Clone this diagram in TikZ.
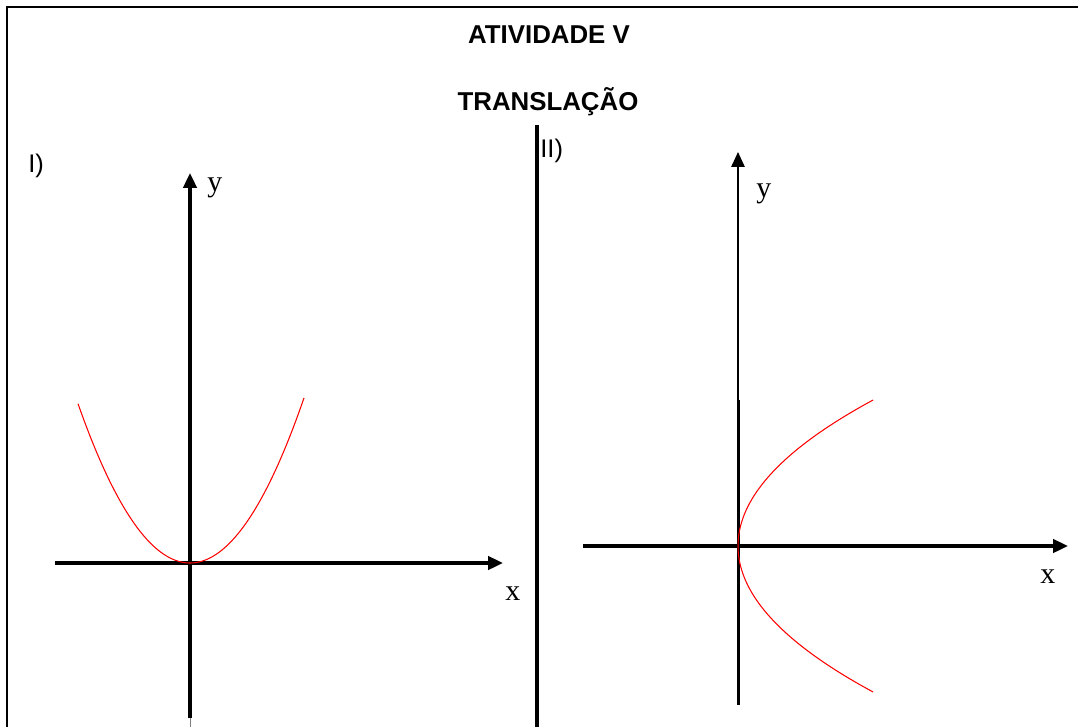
\documentclass[tikz,border=0pt]{standalone}
\usepackage{fontspec}
\setmainfont{Liberation Serif}
\setsansfont{Liberation Sans}
\usetikzlibrary{arrows.meta}

\tikzset{
	frameline/.style={line width=1.5pt},
	axis/.style={line width=1.8pt, -{Triangle[length=8.5pt, width=7.6pt]}},
	curve/.style={red, line width=0.6pt},
	title/.style={font=\sffamily\bfseries\fontsize{14.7}{17}\selectfont, anchor=base},
	part/.style={font=\sffamily\fontsize{14.5}{16}\selectfont, anchor=base west, inner sep=0pt},
	axlabel/.style={font=\fontsize{17}{19}\selectfont, anchor=base west, inner sep=0pt}
}

\begin{document}
\begin{tikzpicture}[x=0.02cm, y=-0.02cm]
	\useasboundingbox (0,0) rectangle (1078,727);
	% frame and divider
	\draw[frameline] (7,727) -- (7,7) -- (1080,7);
	\draw[line width=1.8pt] (537,125) -- (537,727);
	\node[title] (t1) at (549,43) {ATIVIDADE V};
	\node[title] (t2) at (548,110) {TRANSLAÇÃO};
	\node[part] (p1) at (28,172) {I)};
	\node[part] (p2) at (540,157) {II)};

	% graph I
	\coordinate (Lx0) at (55,563);
	\coordinate (Lx1) at (503,563);
	\coordinate (Ly0) at (190,718);
	\coordinate (Ly1) at (190,173);
	\draw[axis] (Lx0) -- (Lx1);
	\draw[axis] (Ly0) -- (Ly1);
	\draw[line width=0.5pt, gray] (190,718) -- (190,727);
	\draw[curve] plot[domain=-112:114, samples=80] ({190+\x},{563-(0.1127*\x)^2});
	\node[axlabel] (Lx) at (505,600) {x};
	\node[axlabel] (Ly) at (207,191) {y};

	% graph II
	\coordinate (Rx0) at (583,546);
	\coordinate (Rx1) at (1068,546);
	\coordinate (Ry0) at (738,705);
	\coordinate (Ry1) at (738,152);
	\draw[axis] (Rx0) -- (Rx1);
	\draw[axis, line width=0.9pt] (Ry0) -- (Ry1);
	\draw[line width=1.3pt] (739,400) -- (739,705);
	\draw[curve] plot[domain=-146:146, samples=80] ({738+(0.0796*\x)^2},{546+\x});
	\node[axlabel] (Rx) at (1040,583) {x};
	\node[axlabel] (Ry) at (756,197) {y};
\end{tikzpicture}
\end{document}
